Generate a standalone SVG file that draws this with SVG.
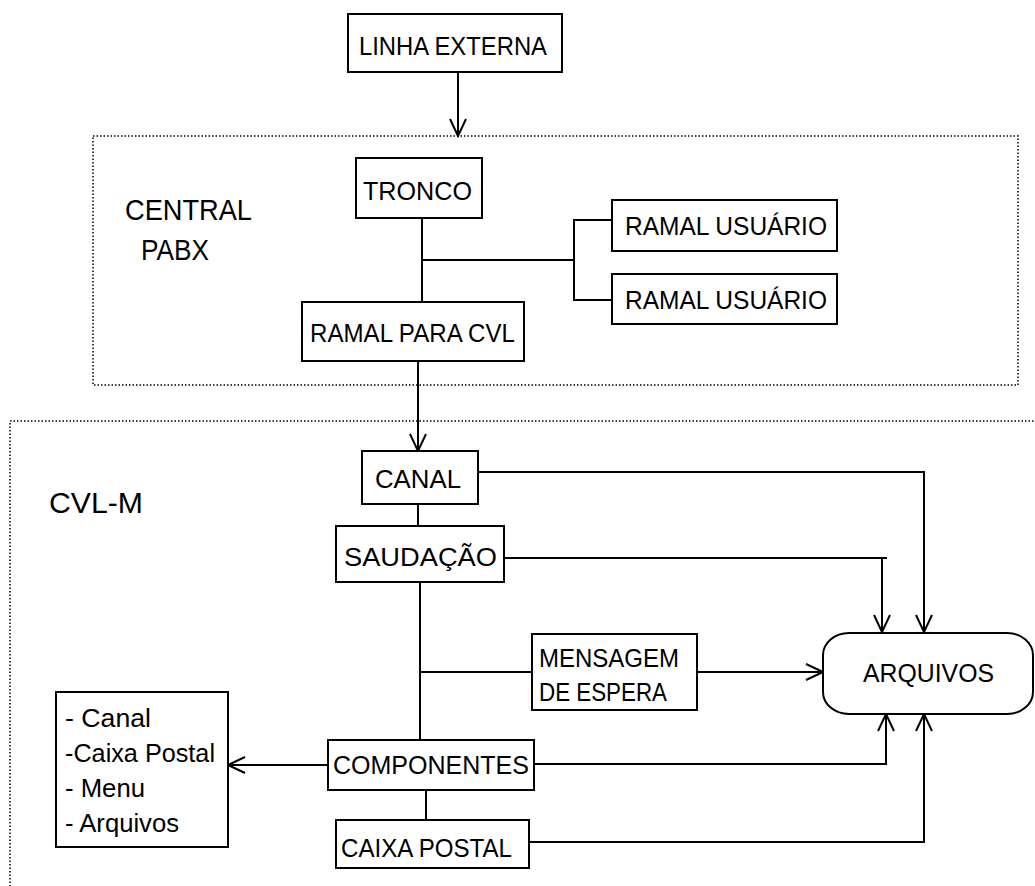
<svg xmlns="http://www.w3.org/2000/svg" width="1035" height="886" viewBox="0 0 1035 886">
<defs>
<style>
.box{fill:#fff;stroke:#000;stroke-width:2}
.grp{fill:none;stroke:#000;stroke-width:1.5;stroke-dasharray:1.5 2}
.ln{fill:none;stroke:#000;stroke-width:2}
.t{font-family:"Liberation Sans",Arial,sans-serif;font-size:25px;fill:#000}
.l{font-family:"Liberation Sans",Arial,sans-serif;font-size:26px;fill:#000}
.big{font-family:"Liberation Sans",Arial,sans-serif;font-size:30px;fill:#000}
</style>
<marker id="ar" markerUnits="userSpaceOnUse" markerWidth="20" markerHeight="20" viewBox="-18 -10 20 20" refX="0" refY="0" orient="auto">
<path d="M-17,-8 L0,0 L-17,8" fill="none" stroke="#000" stroke-width="2"/>
</marker>
</defs>
<rect width="1035" height="886" fill="#fff"/>

<g id="grp-pabx">
<rect class="grp" x="93" y="136" width="925" height="249"/>
<text class="big" x="125" y="220" textLength="127" lengthAdjust="spacingAndGlyphs">CENTRAL</text>
<text class="big" x="141" y="260" textLength="68" lengthAdjust="spacingAndGlyphs">PABX</text>
</g>
<g id="grp-cvl">
<path class="grp" d="M10,890 L10,421 L1040,421"/>
<text class="big" x="49" y="513" textLength="94" lengthAdjust="spacingAndGlyphs">CVL-M</text>
</g>

<g id="connectors">
<line class="ln" x1="458" y1="72" x2="458" y2="136" marker-end="url(#ar)"/>
<line class="ln" x1="422" y1="218" x2="422" y2="302"/>
<line class="ln" x1="422" y1="260" x2="574" y2="260"/>
<path class="ln" d="M612,220 L574,220 L574,300 L612,300"/>
<line class="ln" x1="418" y1="361" x2="418" y2="451" marker-end="url(#ar)"/>
<line class="ln" x1="418" y1="504" x2="418" y2="526"/>
<line class="ln" x1="420" y1="582" x2="420" y2="740"/>
<line class="ln" x1="420" y1="672" x2="532" y2="672"/>
<line class="ln" x1="697" y1="672" x2="823" y2="672" marker-end="url(#ar)"/>
<path class="ln" d="M478,472 L924,472 L924,632" marker-end="url(#ar)"/>
<line class="ln" x1="504" y1="558" x2="887" y2="558"/>
<line class="ln" x1="882" y1="558" x2="882" y2="632" marker-end="url(#ar)"/>
<line class="ln" x1="328" y1="765" x2="228" y2="765" marker-end="url(#ar)"/>
<path class="ln" d="M534,764 L886,764 L886,714" marker-end="url(#ar)"/>
<line class="ln" x1="426" y1="790" x2="426" y2="820"/>
<path class="ln" d="M529,842 L924,842 L924,714" marker-end="url(#ar)"/>
</g>

<g id="linha-externa">
<rect class="box" x="348" y="14" width="214" height="58"/>
<text class="t" x="359" y="55" textLength="188" lengthAdjust="spacingAndGlyphs">LINHA EXTERNA</text>
</g>
<g id="tronco">
<rect class="box" x="356" y="158" width="126" height="60"/>
<text class="t" x="363" y="200" textLength="109" lengthAdjust="spacingAndGlyphs">TRONCO</text>
</g>
<g id="ramal-usuario-1">
<rect class="box" x="612" y="200" width="225" height="51"/>
<text class="t" x="625" y="235" textLength="202" lengthAdjust="spacingAndGlyphs">RAMAL USUÁRIO</text>
</g>
<g id="ramal-usuario-2">
<rect class="box" x="612" y="274" width="225" height="50"/>
<text class="t" x="625" y="309" textLength="202" lengthAdjust="spacingAndGlyphs">RAMAL USUÁRIO</text>
</g>
<g id="ramal-cvl">
<rect class="box" x="302" y="302" width="222" height="59"/>
<text class="t" x="310" y="342" textLength="205" lengthAdjust="spacingAndGlyphs">RAMAL PARA CVL</text>
</g>
<g id="canal">
<rect class="box" x="362" y="451" width="116" height="53"/>
<text class="t" x="375" y="488" textLength="86" lengthAdjust="spacingAndGlyphs">CANAL</text>
</g>
<g id="saudacao">
<rect class="box" x="336" y="526" width="168" height="56"/>
<text class="t" x="344" y="566" textLength="153" lengthAdjust="spacingAndGlyphs">SAUDAÇÃO</text>
</g>
<g id="mensagem">
<rect class="box" x="532" y="634" width="165" height="76"/>
<text class="t" x="539" y="667" textLength="140" lengthAdjust="spacingAndGlyphs">MENSAGEM</text>
<text class="t" x="539" y="701" textLength="128" lengthAdjust="spacingAndGlyphs">DE ESPERA</text>
</g>
<g id="arquivos">
<rect class="box" x="823" y="633" width="210" height="81" rx="26" ry="22"/>
<text class="t" x="863" y="682" textLength="131" lengthAdjust="spacingAndGlyphs">ARQUIVOS</text>
</g>
<g id="lista">
<rect class="box" x="56" y="692" width="172" height="155"/>
<text class="l" x="65" y="727" textLength="86" lengthAdjust="spacingAndGlyphs">- Canal</text>
<text class="l" x="65" y="762" textLength="150" lengthAdjust="spacingAndGlyphs">-Caixa Postal</text>
<text class="l" x="65" y="797" textLength="80" lengthAdjust="spacingAndGlyphs">- Menu</text>
<text class="l" x="65" y="832" textLength="114" lengthAdjust="spacingAndGlyphs">- Arquivos</text>
</g>
<g id="componentes">
<rect class="box" x="328" y="740" width="206" height="50"/>
<text class="t" x="333" y="774" textLength="196" lengthAdjust="spacingAndGlyphs">COMPONENTES</text>
</g>
<g id="caixa-postal">
<rect class="box" x="336" y="820" width="193" height="48"/>
<text class="t" x="341" y="857" textLength="171" lengthAdjust="spacingAndGlyphs">CAIXA POSTAL</text>
</g>
</svg>
